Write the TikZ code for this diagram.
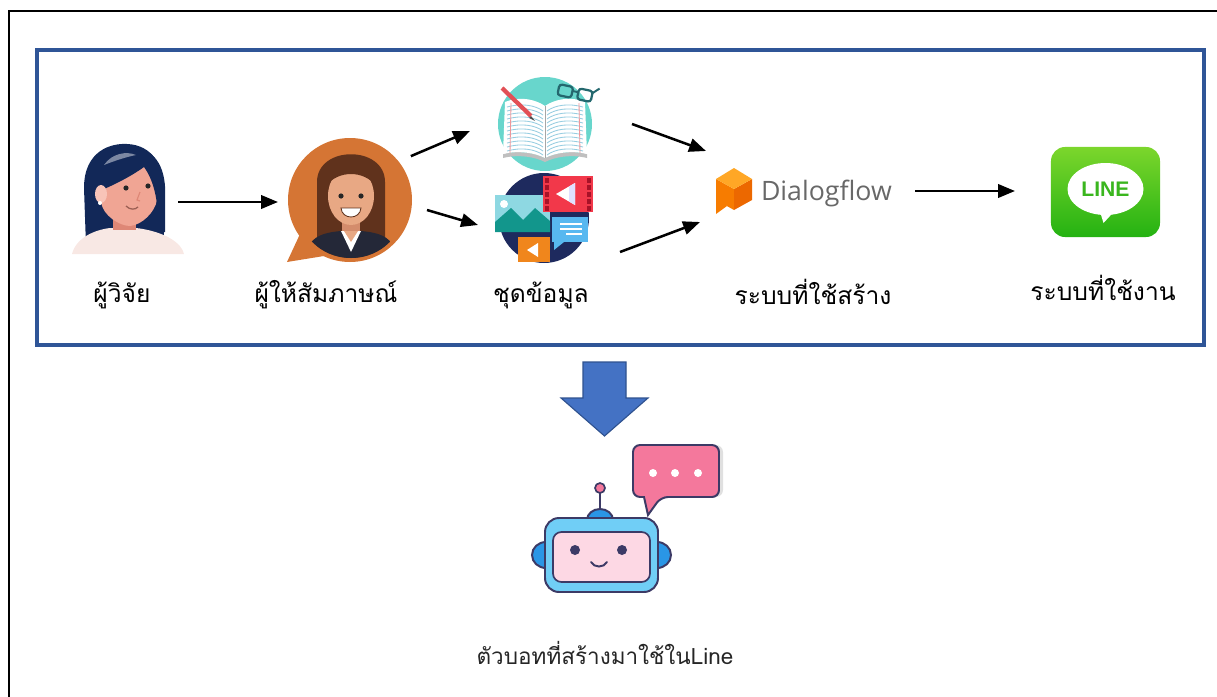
\documentclass[tikz,border=0pt]{standalone}
\usepackage{fontspec}
\newfontfamily\thaifont[Script=Thai]{Loma}
\newfontfamily\logofont{Open Sans}
\newfontfamily\linefont{Liberation Sans}
\usetikzlibrary{arrows.meta,calc}

\definecolor{panelblue}{RGB}{47,85,151}
\definecolor{arrowfill}{RGB}{68,114,196}
\definecolor{arrowedge}{RGB}{47,82,143}
\definecolor{hairnavy}{RGB}{18,40,88}
\definecolor{skin}{RGB}{240,165,148}
\definecolor{skinlight}{RGB}{248,196,184}
\definecolor{skindark}{RGB}{222,135,118}
\definecolor{shirt}{RGB}{248,232,228}
\definecolor{bubbleorange}{RGB}{213,117,52}
\definecolor{hairbrown}{RGB}{96,50,28}
\definecolor{skinwarm}{RGB}{232,168,132}
\definecolor{skinshade}{RGB}{212,140,108}
\definecolor{suit}{RGB}{36,40,56}
\definecolor{bookteal}{RGB}{104,214,204}
\definecolor{pageline}{RGB}{150,205,225}
\definecolor{pencilred}{RGB}{226,80,86}
\definecolor{glassteal}{RGB}{36,104,110}
\definecolor{medianavy}{RGB}{30,42,94}
\definecolor{filmred}{RGB}{242,56,74}
\definecolor{filmdark}{RGB}{168,18,40}
\definecolor{cardcyan}{RGB}{142,216,226}
\definecolor{mountteal}{RGB}{18,150,140}
\definecolor{bubbleblue}{RGB}{88,184,240}
\definecolor{cardorange}{RGB}{240,134,28}
\definecolor{dftop}{RGB}{255,167,38}
\definecolor{dfleft}{RGB}{247,124,0}
\definecolor{dfright}{RGB}{236,104,0}
\definecolor{dfgray}{RGB}{104,104,104}
\definecolor{lineA}{RGB}{124,214,44}
\definecolor{lineB}{RGB}{36,178,18}
\definecolor{linegreen}{RGB}{58,182,30}
\definecolor{botline}{RGB}{60,58,102}
\definecolor{botblue}{RGB}{112,206,246}
\definecolor{botear}{RGB}{42,150,230}
\definecolor{botpink}{RGB}{253,216,228}
\definecolor{chatpink}{RGB}{244,120,156}

\tikzset{
  flow/.style={-{Triangle[length=12pt,width=9.5pt]},line width=1.8pt},
  slot/.style={inner sep=0pt,outer sep=0pt},
  caption/.style={font=\thaifont\fontsize{17.5}{21}\selectfont,anchor=base,inner sep=0pt},
}

\begin{document}
\begin{tikzpicture}[x=0.025cm,y=-0.025cm]
\useasboundingbox (0,0) rectangle (1217,697);

% page frame
\draw[line width=1.8pt] (1230,11) -- (9,11) -- (9,710);

% process panel
\node[slot,draw=panelblue,line width=2.8pt,minimum width=29.175cm,minimum height=7.375cm] (panel) at (620.5,197.5) {};

% slots for the icons
\node[slot,minimum width=2.75cm,minimum height=3.05cm] (researcher) at (122,200) {};
\node[slot,circle,minimum size=3.1cm] (inter) at (350,200) {};
\node[slot,circle,minimum size=2.35cm] (book) at (545,124) {};
\node[slot,circle,minimum size=2.25cm] (media) at (544,218) {};
\node[slot,minimum width=5cm,minimum height=2cm] (dflow) at (800,190) {};
\node[slot,rounded corners=10pt,minimum width=2.725cm,minimum height=2.25cm,
      top color=lineA,bottom color=lineB] (line) at (1105.5,192) {};
\node[slot,minimum width=4.75cm,minimum height=4cm] (bot) at (626,520) {};

% researcher
\begin{scope}[shift={(researcher.center)}]
  \fill[hairnavy] (-36,46) -- (-38,-12) .. controls (-38,-50) and (-10,-57) .. (5,-56)
        .. controls (30,-55) and (42,-35) .. (41,-10) -- (42,46) -- cycle;
  \fill[shirt] (-50,54) .. controls (-46,38) and (-28,30) .. (-12,28) -- (14,28)
        .. controls (32,30) and (58,38) .. (62,54) -- cycle;
  \fill[skindark] (-9,10) rectangle (14,30);
  \fill[skin] (-21,-33) -- (-21,2) .. controls (-19,16) and (-2,26) .. (8,26)
        .. controls (20,25) and (33,12) .. (35,0) -- (35,-33) -- cycle;
  \fill[hairnavy] (-25,-8) .. controls (-29,-43) and (-5,-55) .. (10,-53)
        .. controls (35,-51) and (45,-30) .. (43,0) -- (43,32) -- (36,32)
        .. controls (37,5) and (33,-18) .. (22,-33)
        .. controls (8,-23) and (-8,-15) .. (-25,-8) -- cycle;
  \fill[white,opacity=0.45] (-18,-35) .. controls (-10,-47) and (5,-49) .. (14,-45)
        .. controls (4,-43) and (-8,-39) .. (-18,-35) -- cycle;
  \fill[skinlight] (-21,-6) ellipse [x radius=6,y radius=9];
  \fill[white] (-22,3) circle (2);
  \fill[black!85] (4,-12) circle (2.6) (26,-14) circle (2.6);
  \draw[skindark,line width=0.8pt] (18,-8) -- (15,0) -- (18,1);
  \draw[skindark!70!black,line width=0.9pt] (4,6) .. controls (8,10) and (13,10) .. (16,7);
\end{scope}

% interviewee
\begin{scope}[shift={(inter.center)}]
  \fill[bubbleorange] (0,0) circle (62);
  \fill[bubbleorange] (-50,34) -- (-63,62) -- (-26,56) -- cycle;
  \begin{scope}
    \clip (1,3) circle (55);
    \fill[hairbrown] (-33,62) -- (-33,-18) .. controls (-33,-55) and (35,-55) .. (35,-18) -- (35,62) -- cycle;
    \fill[skinshade] (-8,18) rectangle (10,40);
    \fill[skinwarm] (1,-4) ellipse [x radius=23,y radius=29];
    \fill[hairbrown] (-24,-14) .. controls (-22,-40) and (24,-40) .. (26,-14)
          .. controls (14,-30) and (-12,-30) .. (-24,-14) -- cycle;
    \fill[black!85] (-9,-4) circle (2.6) (11,-4) circle (2.6);
    \filldraw[fill=white,draw=hairbrown,line width=0.6pt] (-9,8) -- (11,8) .. controls (10,20) and (-8,20) .. (-9,8) -- cycle;
    \fill[suit] (-44,62) -- (-40,44) .. controls (-34,34) and (-20,32) .. (-9,31) -- (11,31)
          .. controls (22,32) and (36,34) .. (42,44) -- (46,62) -- cycle;
    \fill[white] (-9,31) -- (1,52) -- (11,31) -- cycle;
    \fill[skinwarm] (-6,31) -- (1,42) -- (8,31) -- cycle;
  \end{scope}
\end{scope}

% notebook
\begin{scope}[shift={(book.center)}]
  \fill[bookteal] (0,0) circle (47);
  \fill[black!25] (-42,30) .. controls (-26,26) and (-10,29) .. (0,34) .. controls (10,29) and (26,26) .. (42,30)
        -- (42,34) .. controls (26,30) and (10,33) .. (0,38) .. controls (-10,33) and (-26,30) .. (-42,34) -- cycle;
  \fill[white] (-42,30) -- (-40,-22) .. controls (-26,-28) and (-10,-25) .. (0,-18)
        .. controls (10,-25) and (26,-28) .. (40,-22) -- (42,30)
        .. controls (26,26) and (10,29) .. (0,34) .. controls (-10,29) and (-26,26) .. (-42,30) -- cycle;
  \foreach \k in {0,...,11} {
    \draw[pageline,line width=0.6pt] (-38,-17+4*\k) .. controls (-24,-21+4*\k) and (-10,-19+4*\k) .. (-2,-13+4*\k);
    \draw[pageline,line width=0.6pt] (38,-17+4*\k) .. controls (24,-21+4*\k) and (10,-19+4*\k) .. (2,-13+4*\k);
  }
  \draw[pencilred!60,line width=0.6pt] (-34,-21) -- (-35,29) (34,-21) -- (35,29);
  \draw[black!35,line width=0.6pt] (0,-18) -- (0,34);
  \draw[pencilred,line width=3pt] (-43,-36) -- (-14,-8);
  \fill[black!70] (-14,-8) -- (-10,-3) -- (-16,-6) -- cycle;
  \begin{scope}[rotate=-12]
    \draw[glassteal,line width=1.6pt,rounded corners=2pt] (6,-42) rectangle (20,-31) (26,-42) rectangle (40,-31);
    \draw[glassteal,line width=1.4pt] (20,-38) -- (26,-38) (40,-40) -- (46,-46);
  \end{scope}
\end{scope}

% media collection
\begin{scope}[shift={(media.center)}]
  \fill[medianavy] (0,0) circle (45);
  \fill[cardcyan] (-49,-23) rectangle (6,14);
  \fill[mountteal] (-49,14) -- (-49,4) -- (-33,-10) -- (-21,2) -- (-9,-10) -- (6,3) -- (6,14) -- cycle;
  \fill[white] (-40,-14) circle (4);
  \fill[filmred] (-1,-42) rectangle (49,-6);
  \foreach \k in {0,...,4} {
    \fill[filmdark] (1,-40+7*\k) rectangle (5,-35+7*\k);
    \fill[filmdark] (43,-40+7*\k) rectangle (47,-35+7*\k);
  }
  \fill[white] (12,-24) -- (31,-35) -- (31,-13) -- cycle;
  \fill[blue!12] (25,-31.5) -- (31,-35) -- (31,-13) -- (25,-16.5) -- cycle;
  \fill[bubbleblue] (8,-1) rectangle (44,24);
  \fill[bubbleblue] (10,24) -- (10,32) -- (20,24) -- cycle;
  \draw[white,line width=1.3pt] (16,6) -- (38,6) (16,11) -- (38,11) (22,16) -- (38,16);
  \fill[cardorange] (-26,19) rectangle (6,44);
  \fill[white] (-17,32) -- (-6,25) -- (-6,39) -- cycle;
\end{scope}

% Dialogflow logo
\begin{scope}[shift={($(dflow.center)+(-66,-1)$)}]
  \fill[dfleft] (-18,-10) -- (0,0) -- (0,21) -- (-18,11) -- cycle;
  \fill[dfleft] (-18,8) -- (-18,25) -- (-7,17) -- cycle;
  \fill[dfright] (0,0) -- (18,-10) -- (18,11) -- (0,21) -- cycle;
  \fill[dftop] (0,-21) -- (18,-10) -- (0,0) -- (-18,-10) -- cycle;
\end{scope}
\node[slot,anchor=base west,font=\logofont\fontsize{19}{20}\selectfont,text=dfgray] (dftext)
  at ($(dflow.center)+(-39,10)$) {Dialogflow};

% LINE logo
\begin{scope}[shift={(line.center)}]
  \fill[white] (0,-3) ellipse [x radius=38,y radius=26];
  \fill[white] (-6,18) -- (-2,31) -- (10,18) -- cycle;
\end{scope}
\node[slot,font=\linefont\bfseries\fontsize{15}{15}\selectfont,text=linegreen] (linetext)
  at ($(line.center)+(0,-3)$) {LINE};

% chat bot
\begin{scope}[shift={(bot.center)}]
  \fill[black!12,rounded corners=5pt] (11,-75) rectangle (97,-23);
  \filldraw[fill=chatpink,draw=botline,line width=1.4pt,rounded corners=5pt]
    (7,-23) -- (7,-75) -- (93,-75) -- (93,-23) -- (35,-23) [rounded corners=0pt] -- (22,-5) -- (18,-23) [rounded corners=5pt] -- cycle;
  \foreach \dx in {27,49,72} \fill[white] (\dx,-47) circle (4);
  \filldraw[fill=botear,draw=botline,line width=1.4pt] (-80,35) ellipse [x radius=14,y radius=13];
  \filldraw[fill=botear,draw=botline,line width=1.4pt] (31,35) ellipse [x radius=14,y radius=13];
  \draw[botline,line width=1.4pt] (-26,-27) -- (-26,-8);
  \filldraw[fill=chatpink,draw=botline,line width=1.2pt] (-26,-32) circle (5);
  \filldraw[fill=botear,draw=botline,line width=1.4pt] (-39,0) arc[start angle=180,end angle=360,x radius=13,y radius=11] -- cycle;
  \filldraw[fill=botblue,draw=botline,line width=1.4pt,rounded corners=10pt] (-81,-2) rectangle (32,72);
  \filldraw[fill=botpink,draw=botline,line width=1.2pt,rounded corners=6pt] (-73,12) rectangle (24,62);
  \fill[botline] (-51,30) circle (5) (-4,30) circle (5);
  \draw[botline,line width=1.4pt,line cap=round] (-35,42) .. controls (-32,48) and (-22,48) .. (-19,42);
\end{scope}

% flow between the steps
\draw[flow] ($(researcher.east)+(1,2)$) -- ($(inter.west)+(-10,2)$);
\draw[flow] ($(inter.north east)+(17,0)$) -- ($(book.west)+(-28,7)$);
\draw[flow] ($(inter.east)+(15,10)$) -- ($(media.west)+(-21,7)$);
\draw[flow] ($(book.east)+(40,0)$) -- ($(dflow.north west)+(6,1)$);
\draw[flow] ($(media.east)+(31,34)$) -- ($(dflow.south west)+(0,-8)$);
\draw[flow] ($(dflow.east)+(15,1)$) -- ($(line.west)+(-36,-1)$);

% from the panel down to the bot
\filldraw[fill=arrowfill,draw=arrowedge,line width=0.8pt] (583,362) -- (626,362) -- (626,398) -- (648,398)
  -- (604.5,436) -- (561,398) -- (583,398) -- cycle;

% labels
\node[caption] (lres) at (122,302) {ผู้วิจัย};
\node[caption] (linter) at (326,302) {ผู้ให้สัมภาษณ์};
\node[caption] (ldata) at (541,302) {ชุดข้อมูล};
\node[caption] (lbuild) at (813,304) {ระบบที่ใช้สร้าง};
\node[caption] (luse) at (1103,300) {ระบบที่ใช้งาน};
\node[caption,font=\thaifont\fontsize{16}{20}\selectfont,text=black!85] (lbot) at (605,664) {ตัวบอทที่สร้างมาใช้ในLine};
\end{tikzpicture}
\end{document}
